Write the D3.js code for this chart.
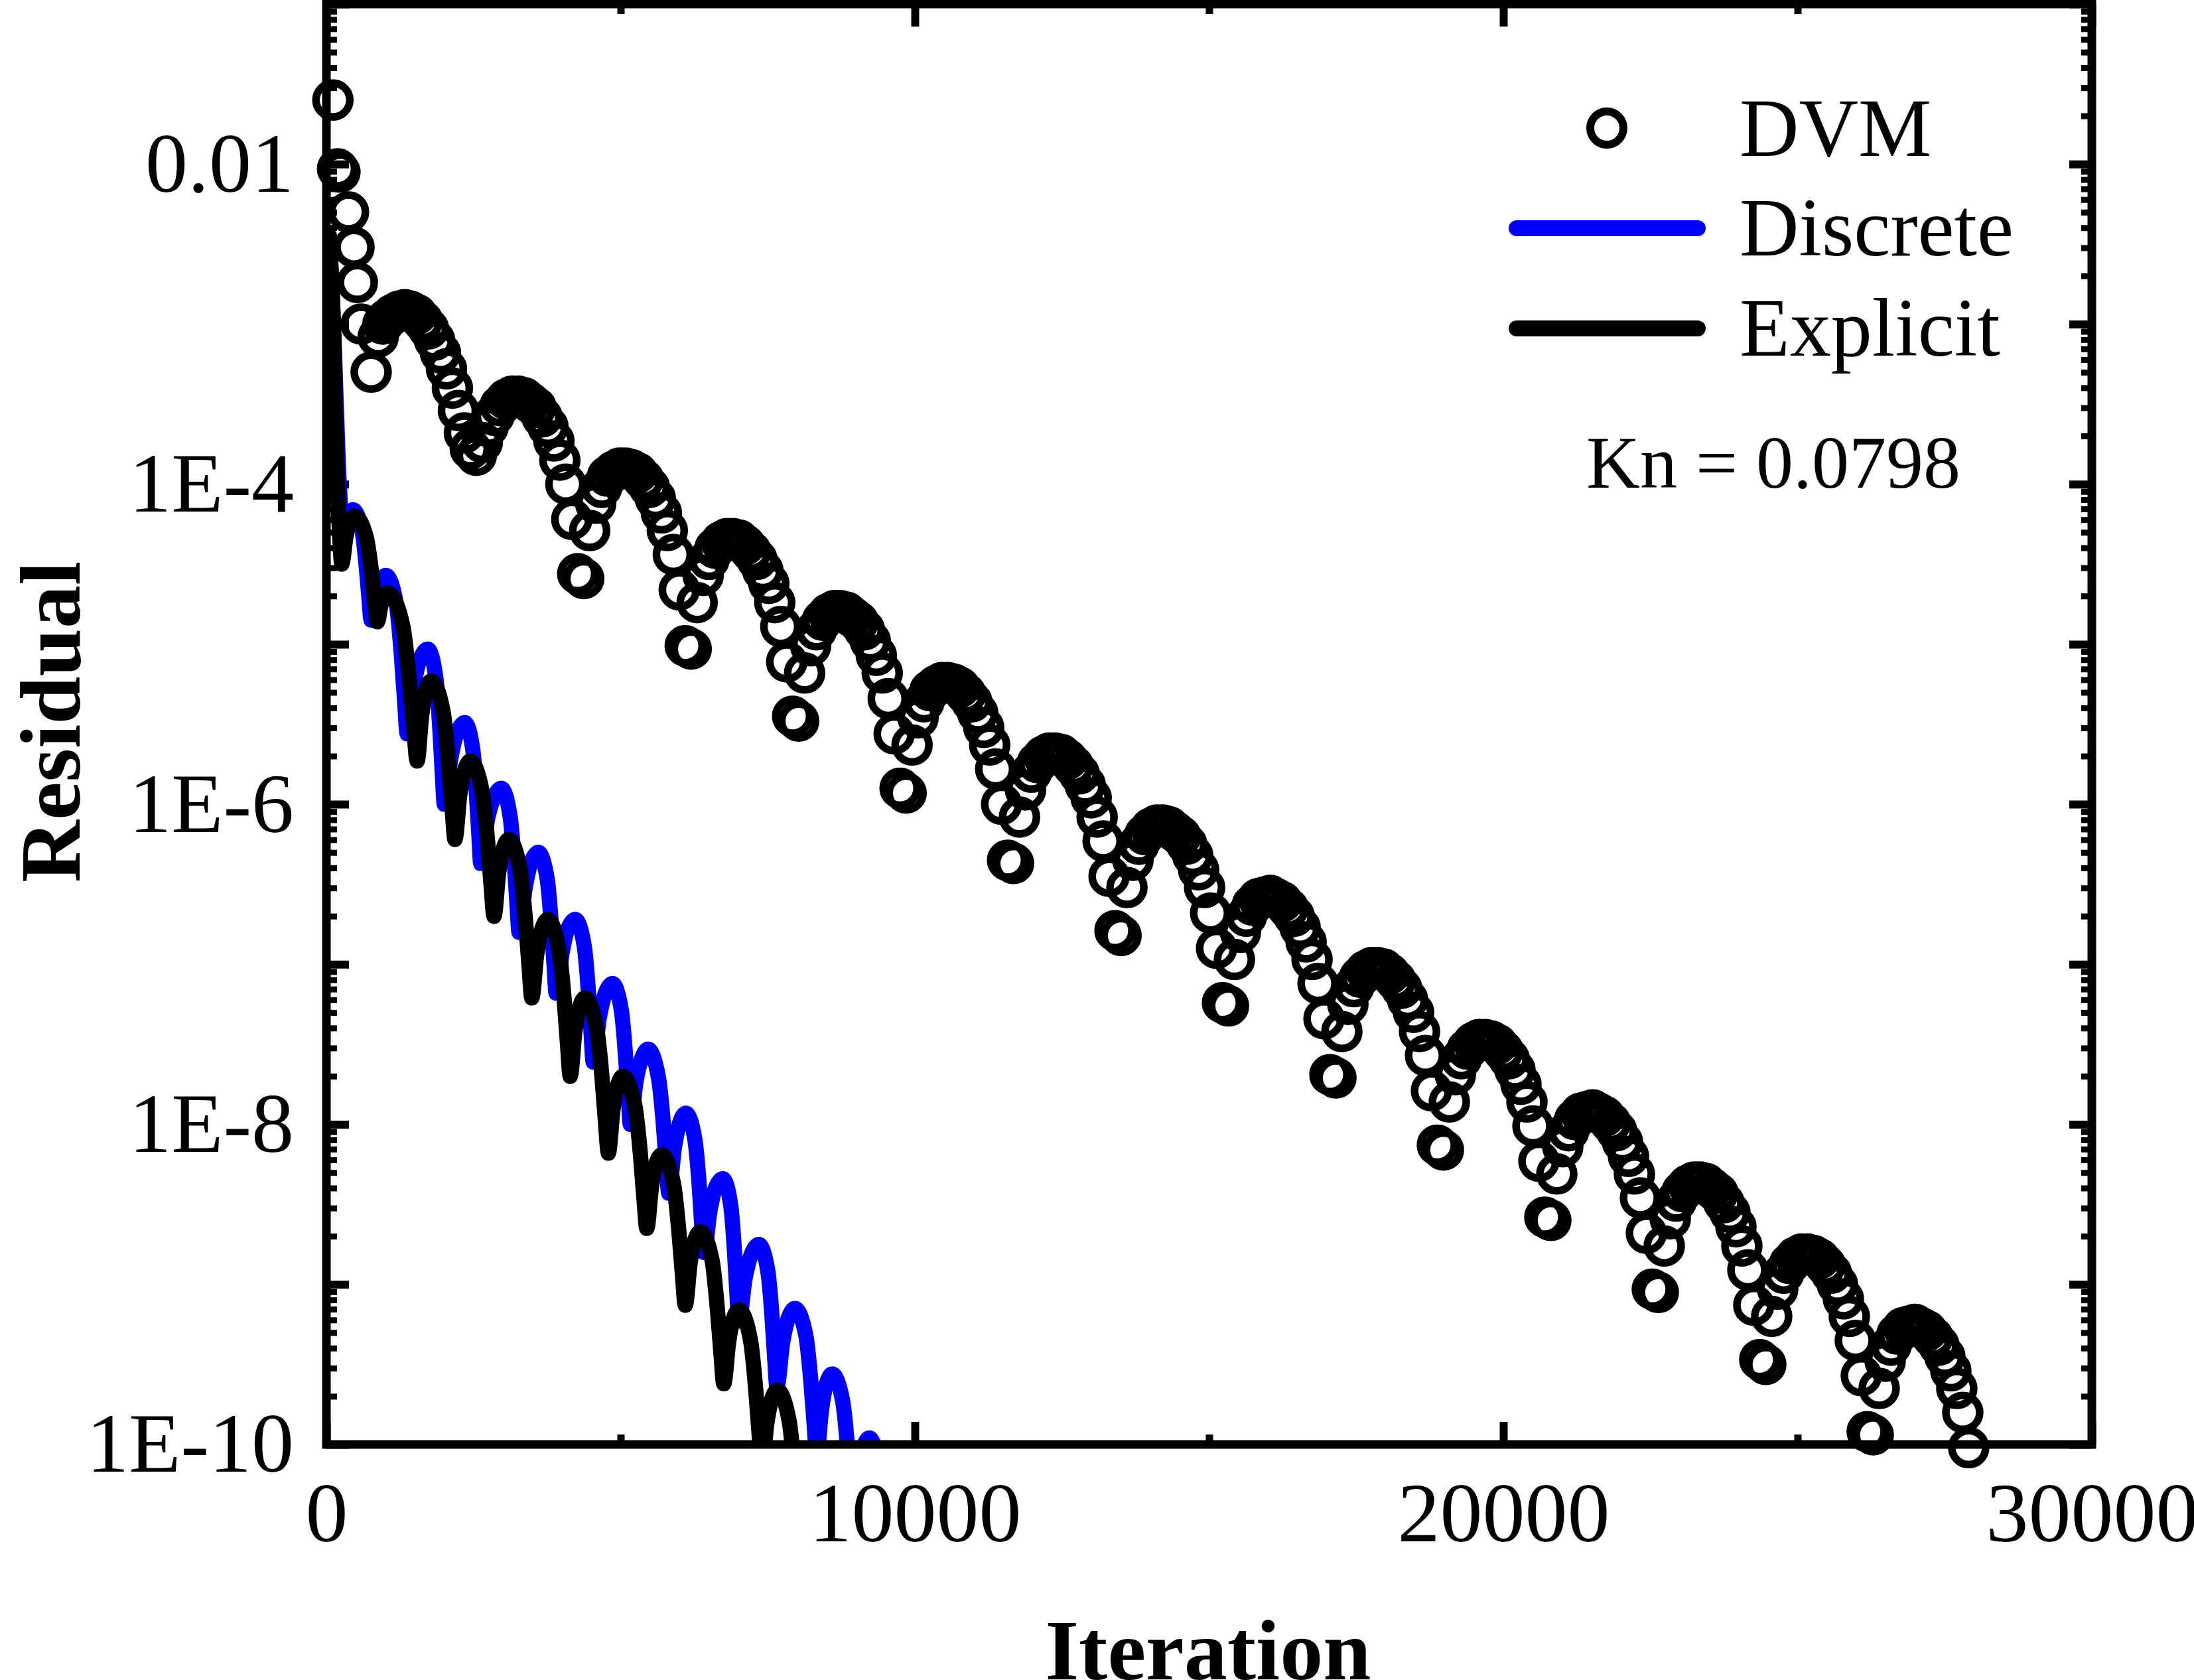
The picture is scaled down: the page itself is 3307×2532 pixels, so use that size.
<!DOCTYPE html>
<html><head><meta charset="utf-8">
<script src="https://cdn.jsdelivr.net/npm/d3@7"></script>
<style>html,body{margin:0;padding:0;background:#fff;}svg{display:block;}</style>
</head><body>
<svg id="chart" width="3307" height="2532"></svg>
<script>
// ---------------- data ----------------
const xTickValues = [0, 10000, 20000, 30000];
const xTickLabels = ["0", "10000", "20000", "30000"];
const xMinorTicks = [5000, 15000, 25000];
const yMajorTicks = [1e-1, 1e-2, 1e-3, 1e-4, 1e-5, 1e-6, 1e-7, 1e-8, 1e-9, 1e-10];
const yLabelValues = [1e-2, 1e-4, 1e-6, 1e-8, 1e-10];
const yTickLabels = ["0.01", "1E-4", "1E-6", "1E-8", "1E-10"];
const seriesNames = ["DVM", "Discrete", "Explicit"];
const annotation = "Kn = 0.0798";

// DVM (open circles): iteration and log10(residual)
const dvmIteration = [
  110, 190, 230, 375, 469, 525, 590,
  760, 880, 960, 1025, 1127, 1228, 1330, 1431, 1533, 1634, 1735, 1837, 1938, 2040, 2141, 2243, 2344, 2445,
  2547, 2648, 2750, 2851, 2953, 3054, 3156, 3257, 3359, 3460, 3561, 3663, 3764, 3866, 3967, 4069, 4170, 4271,
  4373, 4474, 4576, 4677, 4779, 4880, 4982, 5083, 5185, 5286, 5387, 5489, 5590, 5692, 5793, 5895, 5996, 6097,
  6199, 6300, 6402, 6503, 6605, 6706, 6808, 6909, 7011, 7112, 7213, 7315, 7416, 7518, 7619, 7721, 7822, 7923,
  8025, 8126, 8228, 8329, 8431, 8532, 8634, 8735, 8837, 8938, 9039, 9141, 9242, 9344, 9445, 9547, 9648, 9749,
  9851, 9952, 10054, 10155, 10257, 10358, 10460, 10561, 10663, 10764, 10865, 10967, 11068, 11170, 11271, 11373, 11474, 11575,
  11677, 11778, 11880, 11981, 12083, 12184, 12286, 12387, 12489, 12590, 12691, 12793, 12894, 12996, 13097, 13199, 13300, 13401,
  13503, 13604, 13706, 13807, 13909, 14010, 14112, 14213, 14315, 14416, 14517, 14619, 14720, 14822, 14923, 15025, 15126, 15227,
  15329, 15430, 15532, 15633, 15735, 15836, 15938, 16039, 16141, 16242, 16343, 16445, 16546, 16648, 16749, 16851, 16952, 17053,
  17155, 17256, 17358, 17459, 17561, 17662, 17764, 17865, 17967, 18068, 18169, 18271, 18372, 18474, 18575, 18677, 18778, 18879,
  18981, 19082, 19184, 19285, 19387, 19488, 19590, 19691, 19793, 19894, 19995, 20097, 20198, 20300, 20401, 20503, 20604, 20705,
  20807, 20908, 21010, 21111, 21213, 21314, 21416, 21517, 21619, 21720, 21821, 21923, 22024, 22126, 22227, 22329, 22430, 22531,
  22633, 22734, 22836, 22937, 23039, 23140, 23242, 23343, 23445, 23546, 23647, 23749, 23850, 23952, 24053, 24155, 24256, 24357,
  24459, 24560, 24662, 24763, 24865, 24966, 25068, 25169, 25271, 25372, 25473, 25575, 25676, 25778, 25879, 25981, 26082, 26183,
  26285, 26386, 26488, 26589, 26691, 26792, 26894, 26995, 27097, 27198, 27299, 27401, 27502, 27604, 27705, 27807, 27908
];
const dvmLog10 = [
  -1.60, -2.03, -2.05, -2.30, -2.52, -2.74, -3.00,
  -3.30, -3.08, -3.00, -2.97, -2.94, -2.92, -2.91, -2.92, -2.94, -2.98, -3.03, -3.10, -3.18, -3.28, -3.40, -3.54, -3.68, -3.78,
  -3.82, -3.74, -3.64, -3.57, -3.51, -3.47, -3.45, -3.45, -3.46, -3.49, -3.52, -3.58, -3.64, -3.73, -3.85, -4.00, -4.22, -4.56,
  -4.59, -4.29, -4.12, -4.02, -3.95, -3.92, -3.90, -3.90, -3.91, -3.93, -3.97, -4.02, -4.09, -4.18, -4.29, -4.44, -4.66, -5.01,
  -5.03, -4.74, -4.57, -4.47, -4.40, -4.36, -4.34, -4.34, -4.35, -4.38, -4.42, -4.47, -4.54, -4.62, -4.74, -4.89, -5.11, -5.45,
  -5.48, -5.18, -5.01, -4.91, -4.85, -4.81, -4.79, -4.79, -4.80, -4.83, -4.86, -4.91, -4.98, -5.07, -5.18, -5.34, -5.56, -5.90,
  -5.93, -5.63, -5.46, -5.36, -5.29, -5.26, -5.24, -5.24, -5.25, -5.27, -5.31, -5.36, -5.43, -5.52, -5.63, -5.78, -6.00, -6.35,
  -6.37, -6.08, -5.91, -5.80, -5.74, -5.70, -5.68, -5.68, -5.69, -5.72, -5.76, -5.81, -5.88, -5.96, -6.08, -6.23, -6.45, -6.79,
  -6.82, -6.52, -6.35, -6.25, -6.19, -6.15, -6.13, -6.13, -6.14, -6.17, -6.20, -6.25, -6.32, -6.41, -6.52, -6.68, -6.90, -7.24,
  -7.26, -6.97, -6.80, -6.70, -6.63, -6.59, -6.58, -6.57, -6.59, -6.61, -6.65, -6.70, -6.77, -6.86, -6.97, -7.12, -7.34, -7.69,
  -7.71, -7.42, -7.25, -7.14, -7.08, -7.04, -7.02, -7.02, -7.03, -7.06, -7.10, -7.15, -7.22, -7.30, -7.42, -7.57, -7.79, -8.13,
  -8.16, -7.86, -7.69, -7.59, -7.53, -7.49, -7.47, -7.47, -7.48, -7.50, -7.54, -7.59, -7.66, -7.75, -7.86, -8.01, -8.23, -8.58,
  -8.60, -8.31, -8.14, -8.04, -7.97, -7.93, -7.92, -7.91, -7.93, -7.95, -7.99, -8.04, -8.11, -8.20, -8.31, -8.46, -8.68, -9.03,
  -9.05, -8.76, -8.59, -8.48, -8.42, -8.38, -8.36, -8.36, -8.37, -8.40, -8.43, -8.49, -8.55, -8.64, -8.76, -8.91, -9.13, -9.47,
  -9.50, -9.20, -9.03, -8.93, -8.87, -8.83, -8.81, -8.81, -8.82, -8.84, -8.88, -8.93, -9.00, -9.09, -9.20, -9.35, -9.57, -9.92,
  -9.94, -9.65, -9.48, -9.38, -9.31, -9.27, -9.26, -9.25, -9.27, -9.29, -9.33, -9.38, -9.45, -9.54, -9.65, -9.80, -10.02
];

// Discrete (blue line)
const discreteIteration = [
  50, 130, 200, 250, 300, 360, 450,
  605, 676, 723, 760, 841, 912, 1013,
  1193, 1276, 1330, 1373, 1485, 1582, 1722,
  1863, 1928, 1970, 2004, 2116, 2213, 2353,
  2488, 2550, 2591, 2623, 2735, 2832, 2972,
  3123, 3192, 3238, 3274, 3379, 3471, 3602,
  3753, 3822, 3868, 3904, 4009, 4100, 4231,
  4383, 4452, 4498, 4534, 4639, 4730, 4861,
  5013, 5083, 5129, 5165, 5262, 5347, 5468,
  5643, 5724, 5776, 5818, 5912, 5994, 6111,
  6263, 6333, 6379, 6415, 6518, 6608, 6737,
  6872, 6934, 6975, 7007, 7116, 7212, 7349,
  7502, 7572, 7618, 7655, 7754, 7840, 7964,
  8147, 8231, 8286, 8330, 8415, 8489, 8595,
  8773, 8854, 8907, 8950, 9038, 9115, 9225,
  9320, 9390, 9440
];
const discreteLog10 = [
  -2.45, -3.10, -3.85, -4.20, -4.35, -4.25, -4.16,
  -4.29, -4.51, -4.71, -4.85, -4.69, -4.61, -4.57,
  -4.76, -5.08, -5.36, -5.56, -5.26, -5.10, -5.03,
  -5.22, -5.53, -5.81, -6.00, -5.71, -5.56, -5.49,
  -5.66, -5.94, -6.19, -6.37, -6.10, -5.97, -5.90,
  -6.08, -6.36, -6.62, -6.80, -6.52, -6.37, -6.30,
  -6.47, -6.75, -7.00, -7.18, -6.92, -6.78, -6.72,
  -6.89, -7.17, -7.43, -7.61, -7.33, -7.19, -7.12,
  -7.29, -7.57, -7.82, -8.00, -7.73, -7.60, -7.53,
  -7.71, -7.99, -8.25, -8.43, -8.15, -8.00, -7.93,
  -8.10, -8.37, -8.63, -8.80, -8.54, -8.40, -8.34,
  -8.51, -8.79, -9.05, -9.23, -8.96, -8.82, -8.75,
  -8.92, -9.20, -9.46, -9.64, -9.36, -9.22, -9.15,
  -9.32, -9.60, -9.86, -10.06, -9.78, -9.63, -9.56,
  -9.73, -10.01, -10.27, -10.45, -10.17, -10.03, -9.96,
  -10.02, -10.14, -10.35
];

// Explicit (black line)
const explicitIteration = [
  50, 120, 180, 230, 260, 332, 394, 484,
  676, 764, 821, 867, 925, 976, 1048,
  1295, 1409, 1483, 1542, 1618, 1684, 1779,
  1982, 2075, 2135, 2184, 2267, 2339, 2443,
  2646, 2739, 2799, 2848, 2927, 2997, 3096,
  3293, 3384, 3443, 3490, 3577, 3653, 3762,
  3952, 4040, 4097, 4143, 4223, 4293, 4393,
  4592, 4684, 4743, 4791, 4869, 4938, 5036,
  5240, 5334, 5395, 5444, 5525, 5596, 5697,
  5898, 5990, 6050, 6098, 6180, 6252, 6355,
  6554, 6645, 6704, 6752, 6836, 6909, 7013,
  7207, 7296, 7354, 7400, 7484, 7557, 7662,
  7862, 7954, 8014, 8062
];
const explicitLog10 = [
  -2.45, -3.00, -3.90, -4.35, -4.50, -4.33, -4.24, -4.20,
  -4.33, -4.54, -4.73, -4.86, -4.76, -4.71, -4.68,
  -4.88, -5.22, -5.52, -5.73, -5.45, -5.30, -5.23,
  -5.42, -5.74, -6.02, -6.22, -5.94, -5.80, -5.73,
  -5.92, -6.23, -6.51, -6.70, -6.43, -6.29, -6.22,
  -6.41, -6.73, -7.01, -7.21, -6.93, -6.79, -6.72,
  -6.91, -7.22, -7.50, -7.70, -7.42, -7.28, -7.21,
  -7.40, -7.71, -7.99, -8.18, -7.91, -7.77, -7.70,
  -7.88, -8.18, -8.46, -8.65, -8.39, -8.25, -8.19,
  -8.37, -8.67, -8.94, -9.13, -8.87, -8.73, -8.67,
  -8.85, -9.16, -9.43, -9.62, -9.36, -9.22, -9.16,
  -9.35, -9.66, -9.94, -10.14, -9.87, -9.73, -9.66,
  -9.85, -10.17, -10.46, -10.66
];

// ---------------- chart ----------------
const W = 3307, H = 2532;
const plot = {left: 492, right: 3153, top: 6, bottom: 2177};
const FONT = '"Liberation Serif","Times New Roman",Times,serif';
const x = d3.scaleLinear().domain([0, 30000]).range([plot.left, plot.right]);
const y = d3.scaleLog().domain([1e-10, 1e-1]).range([plot.bottom, plot.top]);
const svg = d3.select("#chart");
svg.append("rect").attr("width", W).attr("height", H).attr("fill", "#fff");
svg.append("defs").append("clipPath").attr("id", "plotclip")
  .append("rect").attr("x", plot.left).attr("y", plot.top)
  .attr("width", plot.right - plot.left).attr("height", plot.bottom - plot.top);

const yMinorTicks = [];
for (let e = -10; e < -1; e++) for (let m = 2; m <= 9; m++) yMinorTicks.push(m * Math.pow(10, e));

function cleanAxis(g, w) {
  g.select(".domain").remove();
  g.selectAll(".tick line").attr("stroke", "#000").attr("stroke-width", w);
  g.attr("font-family", FONT).attr("font-size", 128);
  g.selectAll(".tick text").attr("fill", "#000");
}
// bottom
svg.append("g").attr("transform", `translate(0,${plot.bottom})`)
  .call(d3.axisBottom(x).tickValues(xMinorTicks).tickSize(-15).tickFormat(""))
  .call(g => cleanAxis(g, 11));
svg.append("g").attr("transform", `translate(0,${plot.bottom})`)
  .call(d3.axisBottom(x).tickValues(xTickValues).tickSize(-34).tickPadding(55)
    .tickFormat((d, i) => xTickLabels[i]))
  .call(g => cleanAxis(g, 12));
// top
svg.append("g").attr("transform", `translate(0,${plot.top})`)
  .call(d3.axisTop(x).tickValues(xMinorTicks).tickSize(-15).tickFormat(""))
  .call(g => cleanAxis(g, 11));
svg.append("g").attr("transform", `translate(0,${plot.top})`)
  .call(d3.axisTop(x).tickValues(xTickValues).tickSize(-34).tickFormat(""))
  .call(g => cleanAxis(g, 12));
// left
svg.append("g").attr("transform", `translate(${plot.left},0)`)
  .call(d3.axisLeft(y).tickValues(yMinorTicks).tickSize(-16).tickFormat(""))
  .call(g => cleanAxis(g, 9));
svg.append("g").attr("transform", `translate(${plot.left},0)`)
  .call(d3.axisLeft(y).tickValues(yMajorTicks).tickSize(-34).tickPadding(49)
    .tickFormat(d => {
      const i = yLabelValues.findIndex(v => Math.abs(Math.log10(v) - Math.log10(d)) < 1e-6);
      return i >= 0 ? yTickLabels[i] : "";
    }))
  .call(g => cleanAxis(g, 12));
// right
svg.append("g").attr("transform", `translate(${plot.right},0)`)
  .call(d3.axisRight(y).tickValues(yMinorTicks).tickSize(-16).tickFormat(""))
  .call(g => cleanAxis(g, 9));
svg.append("g").attr("transform", `translate(${plot.right},0)`)
  .call(d3.axisRight(y).tickValues(yMajorTicks).tickSize(-34).tickFormat(""))
  .call(g => cleanAxis(g, 12));

// series
const toPts = (xs, ls) => d3.zip(xs, ls);
const line = d3.line().x(d => x(d[0])).y(d => y(Math.pow(10, d[1]))).curve(d3.curveMonotoneX);
const lines = svg.append("g").attr("clip-path", "url(#plotclip)");
lines.append("path").datum(toPts(discreteIteration, discreteLog10))
  .attr("d", line).attr("fill", "none").attr("stroke", "#0000ff")
  .attr("stroke-width", 23).attr("stroke-linejoin", "round").attr("stroke-linecap", "round");
lines.append("path").datum(toPts(explicitIteration, explicitLog10))
  .attr("d", line).attr("fill", "none").attr("stroke", "#000")
  .attr("stroke-width", 23).attr("stroke-linejoin", "round").attr("stroke-linecap", "round");

svg.append("g").selectAll("circle").data(toPts(dvmIteration, dvmLog10)).join("circle")
  .attr("cx", d => x(d[0])).attr("cy", d => y(Math.pow(10, d[1])))
  .attr("r", 25.5).attr("fill", "none").attr("stroke", "#000").attr("stroke-width", 11.5);

// frame
svg.append("rect").attr("x", plot.left).attr("y", plot.top)
  .attr("width", plot.right - plot.left).attr("height", plot.bottom - plot.top)
  .attr("fill", "none").attr("stroke", "#000").attr("stroke-width", 13);

// legend
const lg = svg.append("g").attr("font-family", FONT).attr("font-size", 124).attr("fill", "#000");
lg.append("circle").attr("cx", 2422).attr("cy", 193).attr("r", 25).attr("fill", "none")
  .attr("stroke", "#000").attr("stroke-width", 12);
lg.append("text").attr("x", 2622).attr("y", 235).text(seriesNames[0]);
lg.append("line").attr("x1", 2286).attr("x2", 2559).attr("y1", 344).attr("y2", 344)
  .attr("stroke", "#0000ff").attr("stroke-width", 24).attr("stroke-linecap", "round");
lg.append("text").attr("x", 2622).attr("y", 385).text(seriesNames[1]);
lg.append("line").attr("x1", 2286).attr("x2", 2559).attr("y1", 495).attr("y2", 495)
  .attr("stroke", "#000").attr("stroke-width", 24).attr("stroke-linecap", "round");
lg.append("text").attr("x", 2622).attr("y", 536).text(seriesNames[2]);
svg.append("text").attr("x", 2391).attr("y", 735).attr("font-family", FONT)
  .attr("font-size", 112).attr("fill", "#000").text(annotation);

// axis titles
svg.append("text").attr("transform", "translate(120,1088) rotate(-90)")
  .attr("text-anchor", "middle").attr("font-family", FONT).attr("font-weight", "bold")
  .attr("font-size", 130).attr("fill", "#000").text("Residual");
svg.append("text").attr("x", 1821).attr("y", 2531)
  .attr("text-anchor", "middle").attr("font-family", FONT).attr("font-weight", "bold")
  .attr("font-size", 130).attr("fill", "#000").text("Iteration");
</script>
</body></html>
